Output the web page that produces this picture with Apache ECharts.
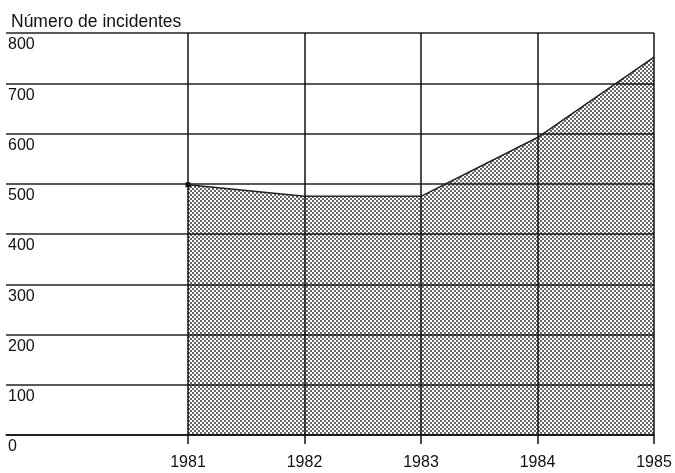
<!DOCTYPE html>
<html>
<head>
<meta charset="utf-8">
<script src="https://cdn.jsdelivr.net/npm/echarts@6/dist/echarts.min.js"></script>
<style>
  html, body { margin: 0; padding: 0; background: #fff; }
  #main { width: 675px; height: 473px; }
</style>
</head>
<body>
<div id="main"></div>
<script>
var years = [1981, 1982, 1983, 1984, 1985];
var incidents = [498, 475, 475, 592, 752];
var yTicks = [0, 100, 200, 300, 400, 500, 600, 700, 800];

// dotted fill like the printed screen
var pat = document.createElement('canvas');
pat.width = 4;
pat.height = 4;
var ctx = pat.getContext('2d');
ctx.fillStyle = 'rgba(0,0,0,0.6)';
ctx.fillRect(0, 0, 2, 2);
ctx.fillRect(2, 2, 2, 2);

var myChart = echarts.init(document.getElementById('main'));

var points = years.map(function (y, i) { return [y, incidents[i]]; });
points[0] = { value: points[0], symbol: 'rect', symbolSize: 5 };

option = {
    backgroundColor: '#fff',
    textStyle: { fontFamily: 'Liberation Sans', color: '#111' },
    title: {
        text: 'Número de incidentes',
        left: 6,
        top: 8,
        textStyle: { fontSize: 17.5, fontWeight: 'normal', color: '#111', fontFamily: 'Liberation Sans' }
    },
    grid: { left: 6, right: 21, top: 33, bottom: 38 },
    xAxis: {
        type: 'value',
        min: 1979.438,
        max: 1985,
        axisLine: { show: true, onZero: false, lineStyle: { color: '#111', width: 1.5 } },
        axisTick: { show: true, customValues: years, length: 9, lineStyle: { color: '#111', width: 1.5 } },
        axisLabel: {
            customValues: years,
            color: '#111',
            fontSize: 16,
            margin: 20,
            formatter: function (v) { return String(v); }
        },
        splitLine: { show: false }
    },
    yAxis: {
        type: 'value',
        min: 0,
        max: 800,
        interval: 100,
        axisLine: { show: false },
        axisTick: { show: false },
        axisLabel: {
            inside: true,
            margin: 2,
            verticalAlign: 'top',
            padding: [4, 0, 0, 0],
            color: '#111',
            fontSize: 16
        },
        splitLine: { show: true, lineStyle: { color: '#222', width: 1.5 } }
    },
    series: [
        {
            type: 'line',
            data: points,
            symbol: 'none',
            itemStyle: { color: '#111' },
            lineStyle: { color: '#222', width: 1.5 },
            areaStyle: { color: { image: pat, repeat: 'repeat' }, opacity: 1 },
            markLine: {
                silent: true,
                symbol: 'none',
                label: { show: false },
                lineStyle: { color: '#111', width: 1.5, type: 'solid' },
                data: years.map(function (y) { return { xAxis: y }; })
            },
            z: 2
        }
    ]
};

myChart.setOption(option);
</script>
</body>
</html>
